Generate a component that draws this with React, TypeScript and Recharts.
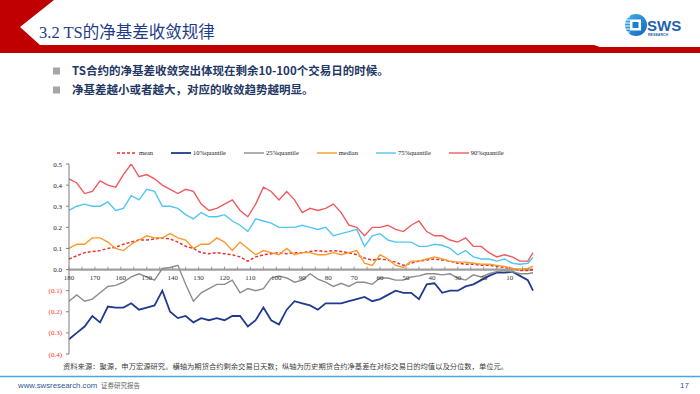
import React from 'react';
import { LineChart, Line, XAxis, YAxis, ReferenceLine } from 'recharts';

// remaining trading days (x axis, reversed)
const days = [180,177,174,171,168,165,162,159,156,153,150,147,144,141,138,135,132,129,126,123,120,117,114,111,108,105,102,99,96,93,90,87,84,81,78,75,72,69,66,63,60,57,54,51,48,45,42,39,36,33,30,27,24,21,18,15,12,9,6,3,1];

const meanVals = [0.05,0.065,0.08,0.085,0.09,0.10,0.105,0.12,0.13,0.14,
  0.14,0.145,0.15,0.145,0.13,0.11,0.10,0.08,0.075,0.08,
  0.075,0.07,0.06,0.04,0.06,0.07,0.075,0.08,0.075,0.08,
  0.08,0.085,0.09,0.085,0.09,0.085,0.08,0.07,0.055,0.045,
  0.05,0.045,0.035,0.02,0.03,0.04,0.045,0.05,0.045,0.04,
  0.03,0.025,0.025,0.02,0.02,0.015,0.01,0.005,-0.005,-0.005,
  0.0];
const q10Vals = [-0.33,-0.30,-0.27,-0.22,-0.25,-0.175,-0.18,-0.18,-0.16,-0.19,
  -0.18,-0.17,-0.10,-0.20,-0.23,-0.22,-0.25,-0.23,-0.24,-0.23,
  -0.24,-0.22,-0.22,-0.27,-0.24,-0.18,-0.24,-0.26,-0.19,-0.15,
  -0.16,-0.17,-0.19,-0.16,-0.16,-0.16,-0.15,-0.14,-0.13,-0.15,
  -0.14,-0.12,-0.10,-0.11,-0.11,-0.14,-0.07,-0.065,-0.11,-0.10,
  -0.10,-0.08,-0.07,-0.05,-0.03,-0.015,-0.015,-0.01,-0.03,-0.05,
  -0.10];
const q25Vals = [-0.15,-0.12,-0.15,-0.14,-0.11,-0.08,-0.075,-0.06,-0.035,-0.02,
  -0.035,-0.05,0.005,0.01,0.02,-0.07,-0.15,-0.11,-0.09,-0.07,
  -0.07,-0.05,-0.11,-0.09,-0.10,-0.09,-0.04,-0.03,-0.04,-0.06,
  -0.05,-0.02,-0.045,-0.06,-0.08,-0.065,-0.08,-0.06,-0.06,-0.07,
  -0.04,-0.04,-0.05,-0.05,-0.035,-0.03,-0.02,-0.02,-0.025,-0.02,
  -0.04,-0.05,-0.025,-0.035,-0.02,-0.01,-0.005,-0.01,-0.02,-0.02,
  -0.015];
const medianVals = [0.10,0.12,0.12,0.15,0.15,0.13,0.10,0.09,0.12,0.14,
  0.16,0.15,0.15,0.17,0.15,0.14,0.10,0.12,0.12,0.15,
  0.13,0.09,0.13,0.10,0.07,0.09,0.08,0.07,0.10,0.07,
  0.08,0.08,0.07,0.07,0.08,0.07,0.08,0.09,0.03,0.02,
  0.07,0.05,0.02,0.01,0.04,0.04,0.05,0.06,0.05,0.04,
  0.035,0.035,0.03,0.025,0.025,0.02,0.015,0.005,0.0,0.005,
  0.015];
const q75Vals = [0.28,0.30,0.31,0.30,0.30,0.32,0.28,0.29,0.35,0.33,
  0.38,0.37,0.30,0.30,0.29,0.26,0.24,0.27,0.25,0.25,
  0.26,0.23,0.21,0.18,0.24,0.23,0.22,0.20,0.20,0.20,
  0.21,0.20,0.19,0.20,0.16,0.17,0.18,0.19,0.11,0.16,
  0.17,0.14,0.13,0.13,0.13,0.11,0.11,0.12,0.115,0.10,
  0.07,0.09,0.06,0.05,0.05,0.04,0.05,0.03,0.025,0.03,
  0.057];
const q90Vals = [0.43,0.41,0.36,0.37,0.42,0.40,0.39,0.45,0.50,0.44,
  0.45,0.43,0.40,0.38,0.36,0.38,0.37,0.31,0.28,0.29,
  0.31,0.33,0.28,0.25,0.31,0.39,0.37,0.33,0.37,0.33,
  0.27,0.29,0.28,0.29,0.31,0.27,0.21,0.20,0.16,0.20,
  0.20,0.21,0.19,0.18,0.21,0.23,0.18,0.16,0.16,0.14,
  0.13,0.15,0.11,0.11,0.08,0.06,0.07,0.06,0.04,0.04,
  0.08];

const yTicks = [-0.4,-0.3,-0.2,-0.1,0,0.1,0.2,0.3,0.4,0.5];
const xTicks = [180,175,170,165,160,155,150,145,140,135,130,125,120,115,110,105,100,95,90,85,80,75,70,65,60,55,50,45,40,35,30,25,20,15,10,5];

const series = [
  { key: 'mean', name: 'mean', color: '#e8312f', width: 1.5, dash: '3 2' },
  { key: 'q10', name: '10%quantile', color: '#1f3a8f', width: 1.8, dash: undefined },
  { key: 'q25', name: '25%quantile', color: '#8c8c8c', width: 1.4, dash: undefined },
  { key: 'median', name: 'median', color: '#f89a2c', width: 1.4, dash: undefined },
  { key: 'q75', name: '75%quantile', color: '#52c6f2', width: 1.4, dash: undefined },
  { key: 'q90', name: '90%quantile', color: '#f05a5f', width: 1.4, dash: undefined },
];

const data = days.map((d, i) => ({
  day: d,
  mean: meanVals[i],
  q10: q10Vals[i],
  q25: q25Vals[i],
  median: medianVals[i],
  q75: q75Vals[i],
  q90: q90Vals[i],
}));

const Y_MIN = -0.4;
const Y_MAX = 0.5;
const CHART_W = 560;
const CHART_H = 220;
const X_AXIS_H = 16;
const MARGIN = { top: 14, right: 27, bottom: 0, left: 19 };
const PLOT_H = CHART_H - MARGIN.top - MARGIN.bottom - X_AXIS_H;
const ZERO_UP = (PLOT_H * (0 - Y_MIN)) / (Y_MAX - Y_MIN);

const serif = '"Liberation Serif", "Times New Roman", serif';
const cjk = '"Noto Sans CJK SC", "Noto Sans", sans-serif';

const fmtY = (v: number) => {
  const a = Math.abs(v).toFixed(1);
  return v < -1e-9 ? `(${a})` : a;
};

const YTick = (props: any) => {
  const { x, y, payload } = props;
  const v = payload.value as number;
  return (
    <text x={x} y={y} dy={2.5} textAnchor="end" fontSize={7} fontFamily={serif}
      fill={v < -1e-9 ? '#ff2a2a' : '#222'}>
      {fmtY(v)}
    </text>
  );
};

const XTick = (props: any) => {
  const { x, y, payload } = props;
  const v = payload.value as number;
  const zy = y - ZERO_UP;
  return (
    <g>
      <line x1={x} x2={x} y1={zy} y2={zy - 3} stroke="#888" strokeWidth={0.8} />
      {v % 10 === 0 ? (
        <text x={x} y={zy + 10} textAnchor="middle" fontSize={7} fontFamily={serif} fill="#333">
          {v}
        </text>
      ) : null}
    </g>
  );
};

const LegendRow = () => (
  <div style={{ position: 'absolute', left: 117, top: 148, display: 'flex', gap: 18, alignItems: 'center', height: 10 }}>
    {series.map((s) => (
      <div key={s.key} style={{ display: 'flex', alignItems: 'center' }}>
        <svg width={20} height={6} style={{ display: 'block' }}>
          <line x1={0} x2={20} y1={3} y2={3} stroke={s.color} strokeWidth={s.width} strokeDasharray={s.dash} />
        </svg>
        <span style={{ marginLeft: 2, fontFamily: serif, fontSize: 6.5, color: '#222', lineHeight: '10px' }}>{s.name}</span>
      </div>
    ))}
  </div>
);

const Logo = () => (
  <g>
    <defs>
      <linearGradient id="lg" x1="0" y1="0" x2="1" y2="1">
        <stop offset="0" stopColor="#3fb2ef" />
        <stop offset="1" stopColor="#1466b8" />
      </linearGradient>
    </defs>
    <circle cx={636} cy={25} r={11} fill="url(#lg)" />
    <rect x={630} y={19.5} width={11} height={11} fill="#fff" />
    <rect x={632.5} y={22} width={6} height={6} fill="#1a7fd0" />
    {[17, 20, 23, 26, 29, 32].map((yy) => (
      <line key={yy} x1={624} x2={630} y1={yy} y2={yy} stroke="#fff" strokeWidth={1} />
    ))}
    <text x={647} y={30.5} fontFamily='"Liberation Sans", Arial, sans-serif' fontWeight="bold" fontSize={15} fill="#1d5fb3">SWS</text>
    <text x={648} y={35.5} fontFamily='"Liberation Sans", Arial, sans-serif' fontWeight="bold" fontSize={3.6} fill="#1d5fb3">RESEARCH</text>
  </g>
);

export default function App() {
  return (
    <div style={{ position: 'absolute', left: 0, top: 0, width: 700, height: 394, background: '#fff', overflow: 'hidden' }}>
      <svg width={700} height={394} style={{ position: 'absolute', left: 0, top: 0 }}>
        <polygon points="0,0 54,0 20,27 40,45 594,45 600,47 700,47 700,53 0,53" fill="#c00000" />
        <text x={39} y={37.5} fontSize={16.5} fill="#1f3c88" fontFamily={`"Liberation Serif", ${cjk}`}>3.2 TS的净基差收敛规律</text>
        <Logo />
        <rect x={53} y={67.5} width={7} height={7} fill="#a6a6a6" />
        <text x={72} y={75} fontSize={11.5} fontWeight="bold" fill="#1f3864" fontFamily={cjk}>TS合约的净基差收敛突出体现在剩余10-100个交易日的时候。</text>
        <rect x={53} y={86.5} width={7} height={7} fill="#a6a6a6" />
        <text x={72} y={94} fontSize={11.5} fontWeight="bold" fill="#1f3864" fontFamily={cjk}>净基差越小或者越大，对应的收敛趋势越明显。</text>
        <text x={63} y={369} fontSize={7.3} fill="#404040" fontFamily={cjk}>资料来源：聚源，申万宏源研究。横轴为期货合约剩余交易日天数；纵轴为历史期货合约净基差在对标交易日的均值以及分位数，单位元。</text>
        <line x1={0} x2={700} y1={376.5} y2={376.5} stroke="#4aa6e0" strokeWidth={1.5} />
        <text x={18} y={388} fontSize={7.8} fill="#2f5597" fontFamily='"Liberation Sans", Arial, sans-serif'>www.swsresearch.com</text>
        <text x={101} y={387.5} fontSize={6.5} fill="#666" fontFamily={cjk}>证券研究报告</text>
        <text x={680} y={388} fontSize={8} fill="#2f5597" fontFamily='"Liberation Sans", Arial, sans-serif'>17</text>
      </svg>
      <LegendRow />
      <div style={{ position: 'absolute', left: 0, top: 150 }}>
        <LineChart width={CHART_W} height={CHART_H} data={data} margin={MARGIN}>
          <XAxis dataKey="day" type="number" domain={[1, 180]} reversed ticks={xTicks} interval={0}
            axisLine={false} tickLine={false} tickSize={0} tickMargin={0} height={X_AXIS_H} tick={<XTick />} />
          <YAxis type="number" domain={[Y_MIN, Y_MAX]} ticks={yTicks} interval={0} width={50}
            axisLine={{ stroke: '#7f7f7f', strokeWidth: 1 }} tickLine={{ stroke: '#7f7f7f' }} tickSize={3} tickMargin={4}
            tick={<YTick />} allowDataOverflow />
          <ReferenceLine y={0} stroke="#a0a0a0" strokeWidth={2.2} />
          {series.map((s) => (
            <Line key={s.key} dataKey={s.key} name={s.name} stroke={s.color} strokeWidth={s.width}
              strokeDasharray={s.dash} dot={false} activeDot={false} type="linear" isAnimationActive={false} />
          ))}
        </LineChart>
      </div>
    </div>
  );
}
